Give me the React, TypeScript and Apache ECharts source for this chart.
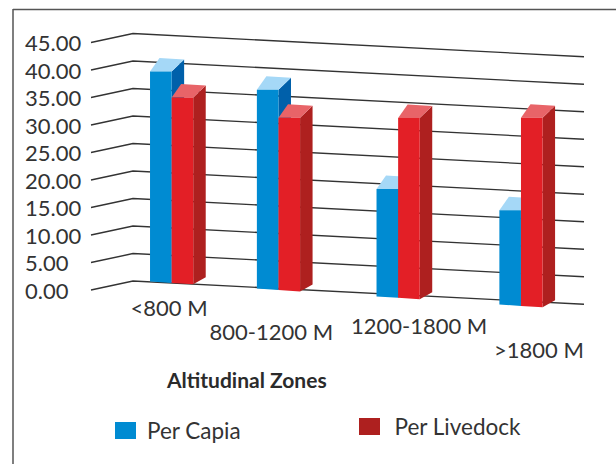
import React, { useEffect, useRef } from "react";
import * as echarts from "echarts";

const categories = ["<800 M", "800-1200 M", "1200-1800 M", ">1800 M"];
const perCapita = [38.45, 36.4, 19.8, 17.4];
const perLivestock = [33.7, 31.3, 32.7, 34.2];
const tickValues = [0, 5, 10, 15, 20, 25, 30, 35, 40, 45];

const FONT = "Lato, Carlito, sans-serif";
const TEXT = "#333333";
// perspective layout of the chart floor
const WALL_DX = 42;
const WALL_DY = 9;
const WALL_SLOPE = 0.0515;
const BAR_BASE_DY = 9.6;
const BAR_SLOPE = 0.0658;
const BAR_W = 21.6;
const barShift = [19, 2.6, -1, -1.4];
const labelPads = [
  { top: 0, left: 33, right: 0 },
  { top: 24, left: 0, right: 9 },
  { top: 18, left: 40, right: 0 },
  { top: 42, left: 33, right: 0 },
];

const poly = (points: number[][], fill: string) => ({
  type: "polygon",
  shape: { points },
  style: { fill, stroke: null },
});

const barRender = (side: number, front: string, top: string, flank: string) => (params: any, api: any) => {
  const i = api.value(0);
  const zero = api.coord([i, 0]);
  const peak = api.coord([i, api.value(1)]);
  const cx = zero[0] + barShift[i];
  const xl = side < 0 ? cx - BAR_W : cx;
  const xr = xl + BAR_W;
  const base = (x: number) => zero[1] - BAR_BASE_DY + (x - (params.coordSys.x + WALL_DX)) * BAR_SLOPE;
  const yt = peak[1] + (base(cx) - zero[1]);
  return {
    type: "group",
    children: [
      poly([[xr, yt], [xr + 12.5, yt - 12], [xr + 12.5, base(xr) - 7], [xr, base(xr)]], flank),
      poly([[xl, yt], [xr, yt], [xr + 12.5, yt - 12], [xl + 9.5, yt - 13.5]], top),
      poly([[xl, yt], [xr, yt], [xr, base(xr)], [xl, base(xl)]], front),
    ],
  };
};

export default function App() {
  const ref = useRef<HTMLDivElement>(null);
  useEffect(() => {
    document.body.style.margin = "0";
    const chart = echarts.init(ref.current!, undefined, { renderer: "svg" });
    chart.setOption({
      animation: false,
      backgroundColor: "#ffffff",
      textStyle: { fontFamily: FONT },
      title: {
        text: "Altitudinal Zones",
        left: 162,
        top: 364,
        textStyle: { fontFamily: FONT, fontSize: 21, fontWeight: "bold", color: "#2b2b2b" },
      },
      legend: [
        {
          data: ["Per Capia"],
          icon: "rect",
          left: 110,
          top: 414,
          itemWidth: 21,
          itemHeight: 17,
          textStyle: { fontFamily: FONT, fontSize: 22.5, color: TEXT, padding: [0, 0, 0, 6] },
        },
        {
          data: ["Per Livedock"],
          icon: "rect",
          left: 354,
          top: 410,
          itemWidth: 21,
          itemHeight: 17,
          textStyle: { fontFamily: FONT, fontSize: 22.5, color: TEXT, padding: [0, 0, 0, 9.5] },
        },
      ],
      grid: { left: 91, right: 32, top: 42.5, bottom: 174 },
      xAxis: {
        type: "category",
        data: categories.map((value, i) => ({
          value,
          textStyle: { padding: [labelPads[i].top, labelPads[i].right, 0, labelPads[i].left] },
        })),
        axisLine: { show: false },
        axisTick: { show: false },
        axisLabel: { interval: 0, margin: 6.5, fontFamily: FONT, fontSize: 22, color: TEXT, hideOverlap: false },
      },
      yAxis: {
        type: "value",
        min: 0,
        max: 45,
        interval: 5,
        splitLine: { show: false },
        axisLine: { show: false },
        axisTick: { show: false },
        axisLabel: {
          margin: 66,
          align: "left",
          fontFamily: FONT,
          fontSize: 22,
          color: TEXT,
          formatter: (v: number) => v.toFixed(2),
        },
      },
      graphic: [
        { type: "line", shape: { x1: 13, y1: 9.5, x2: 616, y2: 9.5 }, style: { stroke: "#555555", lineWidth: 1.5 } },
        { type: "line", shape: { x1: 13, y1: 9, x2: 13, y2: 464 }, style: { stroke: "#555555", lineWidth: 1.5 } },
      ],
      series: [
        {
          name: "Walls",
          type: "custom",
          clip: false,
          silent: true,
          data: tickValues.map((v) => [0, v]),
          renderItem: (params: any, api: any) => {
            const y = api.coord([0, api.value(1)])[1];
            const sys = params.coordSys;
            const xEnd = sys.x + sys.width;
            return {
              type: "polyline",
              shape: {
                points: [
                  [sys.x, y],
                  [sys.x + WALL_DX, y - WALL_DY],
                  [xEnd, y - WALL_DY + (xEnd - sys.x - WALL_DX) * WALL_SLOPE],
                ],
              },
              style: { stroke: "#333333", lineWidth: 1.3, fill: null },
            };
          },
        },
        {
          name: "Per Capia",
          type: "custom",
          clip: false,
          itemStyle: { color: "#008BD2" },
          data: perCapita.map((v, i) => [i, v]),
          renderItem: barRender(-1, "#008BD2", "#A5D8F7", "#0060AA"),
        },
        {
          name: "Per Livedock",
          type: "custom",
          clip: false,
          itemStyle: { color: "#AE201F" },
          data: perLivestock.map((v, i) => [i, v]),
          renderItem: barRender(1, "#E31F26", "#E86468", "#AE201F"),
        },
      ],
    });
    return () => chart.dispose();
  }, []);
  return <div ref={ref} style={{ width: 616, height: 464 }} />;
}
